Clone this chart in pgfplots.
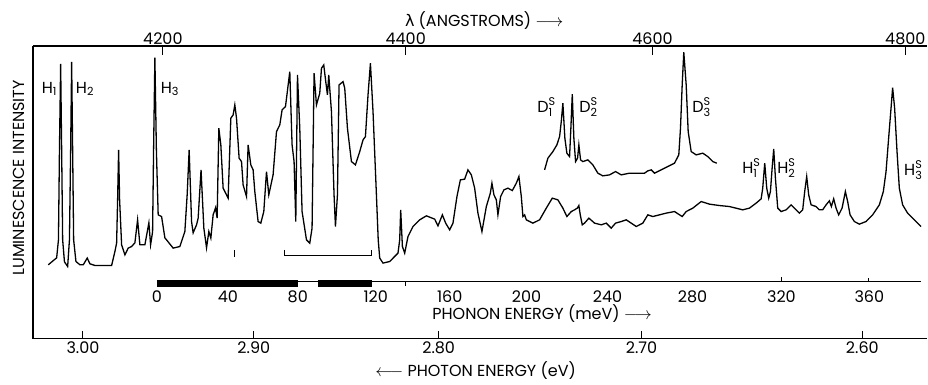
\documentclass[border=0pt]{standalone}
\usepackage{fontspec}
\setmainfont{Poppins}
\newfontfamily\dejavu{DejaVu Sans}
\usepackage{amsmath}
\usepackage{pgfplots}
\pgfplotsset{compat=1.18}
\begin{document}
\fontsize{16}{19}\selectfont
\begin{tikzpicture}[x=1pt,y=1pt]
\path (-33,-38) rectangle (895,339);
\begin{axis}[at={(0,0)}, anchor=south west, scale only axis,
  width=895pt, height=293pt, xmin=33, xmax=928, ymin=0, ymax=293,
  axis x line=top, axis y line=none,
  axis line style={line width=1.4pt,-},
  xtick={163,406,653,906}, xticklabels={4200,4400,4600,4800},
  ytick=\empty, xtick align=inside, major tick length=9pt,
  tick style={line width=1.1pt, black},
  xticklabel style={inner sep=1pt},
  /pgf/number format/assume math mode=true]
\end{axis}
\begin{axis}[at={(0,0)}, anchor=south west, scale only axis,
  width=895pt, height=293pt, xmin=33, xmax=928, ymin=0, ymax=293,
  axis x line=bottom, axis y line=left,
  axis line style={line width=1.4pt,-},
  xtick={83,254,439,642,863}, xticklabels={3.00,2.90,2.80,2.70,2.60},
  ytick=\empty, xtick align=inside, major tick length=8pt,
  tick style={line width=1.1pt, black},
  xticklabel style={inner sep=1pt, yshift=-2pt},
  /pgf/number format/assume math mode=true,
  clip=false]
% main spectrum
\addplot[black, line width=1.3pt] coordinates {
(48.3,74) (56.7,81) (58.5,99) (59.5,189) (60.7,275) (61.7,189) (62.7,99) (64.5,77)
(67.7,72.3) (69.5,99) (70.7,189) (71.7,277) (72.7,189) (73.7,99) (76,77.3) (80,74)
(83.3,74) (87.3,80.7) (90,75) (95,73.3) (111.7,73.3) (115,87.3) (116.7,95.7) (117.7,139)
(118.7,189) (119.7,139) (121.7,94) (125,84) (128.3,90.7) (131.7,92.3) (135,96) (137.7,119)
(140,94) (145,94) (149,116) (150.7,94) (152.7,107) (153.7,189) (155,281.3) (156.5,189)
(158.3,124) (161.7,122.3) (165,101) (173.3,90.7) (180,92.3) (185,107.3) (187.3,144) (189.3,189)
(191.7,117.3) (193.3,106) (196.7,114) (198.3,120.7) (201.2,169) (204,110.7) (206.7,91) (209,107.3)
(211,100.7) (213.3,124) (215.7,131) (217.3,120.7) (219,210.7) (221,194) (223.3,150.7) (226.7,144)
(228.3,140.7) (231,220.7) (233.3,224) (235,234) (236.7,220.7) (239.3,180.7) (241.7,177.3) (243.3,154)
(246.7,142.3) (248.3,194) (251,174) (253.3,169) (255,147.3) (258.3,117.3) (261,115.7) (264,127.3)
(266.7,167.3) (269,144) (273.3,164) (276.7,207.3) (280,214) (282.3,229) (285.7,232.3) (290,267.3)
(292.3,194) (294.3,177.3) (296,117.3) (297.7,264) (300,210.7) (302.3,127.3) (306.7,99) (310,95.7)
(312.3,110.7) (314.3,265.7) (316.7,234) (320,245.7) (321.7,270.7) (324,274) (326,257.3) (327.7,244)
(329,264) (331.7,227.3) (334.3,144) (335.7,112.3) (337.7,144) (339.3,254) (343.3,257.3) (345,250.7)
(347.7,210.7) (351.7,177.3) (355.7,174) (360,187.3) (363.3,199) (365.7,202.3) (368.3,244) (370.7,275.7)
(373.3,227.3) (376.7,144) (378.5,99) (380,80.7) (383.3,75.7) (390,77.3) (398.3,85.7) (400,99)
(401,129) (402.7,92.3) (405,85.7) (408.3,102.3) (413.3,112.3) (420,119) (426.7,123) (435,119.7)
(438.3,113) (442.7,124) (446,115.7) (450,109) (453.3,115.7) (457.3,142.3) (460.7,159) (465,159.7)
(468.3,169) (471.7,164) (475,150.7) (478.3,125.7) (482.3,107.3) (486.7,132.3) (490.7,145.7) (492.3,155.7)
(494.3,144) (496.7,139) (498.3,124) (501,142.3) (504.3,149) (508.3,150.7) (512.7,148.3) (516.7,155.7)
(519.3,162.3) (521.7,142.3) (523.3,122.3) (525,124) (526.7,119) (533.3,115.7) (540,119) (546.7,130.7)
(552.7,140.7) (558.3,139) (563.3,130.7) (567.3,122.3) (571.7,127.3) (575,129) (577.7,130.7) (579.3,133.3)
(580.7,124) (582.7,114) (585,115.7) (589.3,120.7) (595,115.7) (601.7,114) (606.7,115.7) (611.7,110.7)
(616,115.7) (621.7,117.3) (626.7,119) (631.7,115.7) (636.7,112.3) (643.3,115.7) (648.3,124) (653.3,122.3)
(660,124) (666.7,125.7) (675,127.3) (682.7,122.3) (686.7,127.3) (693.3,130.7) (701.7,137.3) (710,134.7)
(720,133.3) (730,132.3) (743.3,129) (750,130.7) (756.7,135.7) (761.7,140) (763.3,150.7) (765.3,175.7)
(767.3,150.7) (769.3,140.7) (771,147.3) (772.7,170.7) (774.3,190) (776,160.7) (778.3,130.7) (781.7,127.3)
(786.7,129) (791.7,134) (795,130.7) (800,125.7) (803.3,129) (805.3,147.3) (807.3,162.3) (809.3,144)
(811.7,134) (816.7,132.3) (820,129) (823.3,129) (826.7,134) (830,138) (832,132.3) (834.3,140)
(836.7,130.7) (839.3,124) (842.7,130.7) (846,147.3) (848.3,137.3) (850.7,124) (855,117.3) (860,114.7)
(866.7,117.3) (873.3,124) (880,134) (884,147.3) (886.7,167.3) (889.3,200.7) (891.7,230.7) (893.3,251.3)
(895.3,230.7) (897.7,187.3) (900,150.7) (903.3,134) (908.3,125.7) (915,119) (921.7,112.3)
};
% displaced D spectrum
\addplot[black, line width=1.3pt] coordinates {
(545,169) (548.3,180.7) (553.3,187.3) (557.3,194) (560,202.3) (561.7,217.3) (563.3,235.7) (565.3,200.7)
(567.3,185.7) (570,182.3) (571.3,210.7) (572.7,244.7) (574.3,200.7) (576,177.3) (578,180.7) (579.3,194)
(581,179) (583.3,177.3) (588.3,179) (593.3,174) (598.3,165.7) (603.3,163) (610,164) (616,167.3)
(621.7,164) (630,165.7) (638.3,165.7) (645,165.7) (648.3,168) (651.7,169) (655,165.7) (661.7,169)
(668.3,172.3) (675,175.7) (679.3,184) (681,210.7) (682.7,254) (684.3,286.7) (686.7,254) (688.7,207.3)
(691.7,187.3) (696.7,184) (703.3,185.7) (708.3,182.3) (713.3,177.3) (717.3,175.7)
};
% phonon energy scale
\addplot[black, line width=1.1pt] coordinates {(157,57.3) (922,57.3)};
\addplot[black, line width=7pt] coordinates {(157,55.3) (298,55.3)};
\addplot[black, line width=7pt] coordinates {(318,55.3) (372,55.3)};
\addplot[black, line width=0.8pt] coordinates {(406,57.3) (406,53)};
\addplot[black, line width=0.8pt] coordinates {(782,57.3) (782,62)};
\addplot[black, line width=0.8pt] coordinates {(869,57.3) (869,61)};
% bracket and marker
\addplot[black, line width=1.1pt] coordinates {(284.3,89) (284.3,83.3) (371.7,83.3) (371.7,89)};
\addplot[black, line width=1.1pt] coordinates {(235,82) (235,89)};
% phonon tick labels
\node at (157,42) {0};
\node at (228,42) {40};
\node at (298,42) {80};
\node at (376,42) {120};
\node at (450,42) {160};
\node at (527,42) {200};
\node at (608,42) {240};
\node at (693,42) {280};
\node at (782,42) {320};
\node at (870,42) {360};
\node at (542.5,25) {PHONON ENERGY (meV) $\longrightarrow$};
% axis titles
\node[rotate=90] at (19,161) {LUMINESCENCE INTENSITY};
\node at (484.5,318) {{\dejavu λ} (ANGSTROMS) $\longrightarrow$};
\node at (476,-32) {$\longleftarrow$ PHOTON ENERGY (eV)};
% peak labels
\node at (49.5,250) {$\text{H}_{\text{1}}$};
\node at (85,250) {$\text{H}_{\text{2}}$};
\node at (170,250) {$\text{H}_{\text{3}}$};
\node at (547,232) {$\text{D}^{\text{S}}_{\text{1}}$};
\node at (589,232) {$\text{D}^{\text{S}}_{\text{2}}$};
\node at (702,232) {$\text{D}^{\text{S}}_{\text{3}}$};
\node at (752,171) {$\text{H}^{\text{S}}_{\text{1}}$};
\node at (787,171) {$\text{H}^{\text{S}}_{\text{2}}$};
\node at (914,169) {$\text{H}^{\text{S}}_{\text{3}}$};
\end{axis}
\end{tikzpicture}
\end{document}
